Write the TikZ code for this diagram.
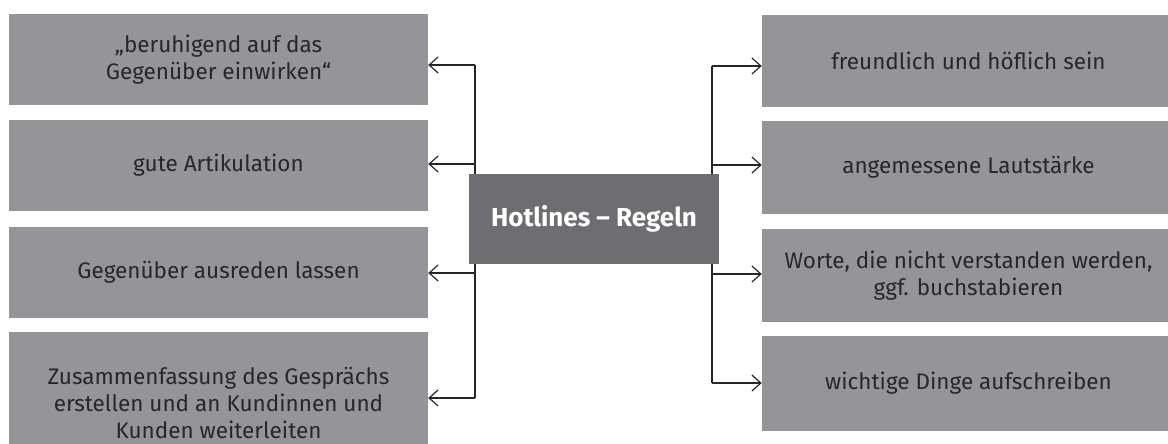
\documentclass[tikz,border=0pt]{standalone}
\usepackage{fontspec}
\setmainfont{Fira Sans}
\usetikzlibrary{arrows.meta}
\definecolor{boxgray}{HTML}{939598}
\definecolor{centergray}{HTML}{6D6E71}
\definecolor{txt}{HTML}{2A2627}
\tikzset{
  item/.style={fill=boxgray, draw=none, text=txt, align=center, inner sep=0pt,
    font=\fontsize{22.5}{27}\selectfont, anchor=center},
  hub/.style={fill=centergray, draw=none, text=white, align=center, inner sep=0pt,
    font=\fontsize{26}{27}\selectfont\bfseries, minimum width=250pt, minimum height=90pt},
  conn/.style={draw=black!85, line width=1.2pt, -{Straight Barb[length=9pt,width=16pt,line width=1.2pt]}},
  trunk/.style={draw=black!85, line width=1.2pt},
}
\begin{document}
\begin{tikzpicture}[x=1pt,y=-1pt]
\useasboundingbox (0,0) rectangle (1168,444);
\clip (0,0) rectangle (1168,444);
% left boxes
\node[item, minimum width=419pt, minimum height=91pt] (L1) at (218.5,59.5) {„beruhigend auf das\\Gegenüber einwirken“};
\node[item, minimum width=419pt, minimum height=91pt] (L2) at (218.5,165.5) {gute Artikulation};
\node[item, minimum width=419pt, minimum height=91pt] (L3) at (218.5,272.5) {Gegenüber ausreden lassen};
\node[item, minimum width=419pt, minimum height=142pt] (L4) at (218.5,403) {Zusammenfassung des Gesprächs\\erstellen und an Kundinnen und\\Kunden weiterleiten};
% right boxes
\node[item, minimum width=413pt, minimum height=92pt] (R1) at (968.5,61) {freundlich und höflich sein};
\node[item, minimum width=413pt, minimum height=93pt] (R2) at (968.5,167.5) {angemessene Lautstärke};
\node[item, minimum width=413pt, minimum height=93pt] (R3) at (968.5,275.5) {Worte, die nicht verstanden werden,\\ggf. buchstabieren};
\node[item, minimum width=413pt, minimum height=95pt] (R4) at (968.5,383.5) {wichtige Dinge aufschreiben};
% trunk coordinates
\coordinate (la) at (475,65);
\coordinate (lb) at (475,164);
\coordinate (lc) at (475,273);
\coordinate (ld) at (475,398);
\coordinate (ra) at (712,66);
\coordinate (rb) at (712,165);
\coordinate (rc) at (712,274);
\coordinate (rd) at (712,383);
\draw[trunk] (la) -- (ld);
\draw[trunk] (ra) -- (rd);
\draw[conn] (la) -- (L1.east |- la);
\draw[conn] (lb) -- (L2.east |- lb);
\draw[conn] (lc) -- (L3.east |- lc);
\draw[conn] (ld) -- (L4.east |- ld);
\draw[conn] (ra) -- (R1.west |- ra);
\draw[conn] (rb) -- (R2.west |- rb);
\draw[conn] (rc) -- (R3.west |- rc);
\draw[conn] (rd) -- (R4.west |- rd);
% hub
\node[hub] (H) at (594,219) {Hotlines – Regeln};
\end{tikzpicture}
\end{document}
